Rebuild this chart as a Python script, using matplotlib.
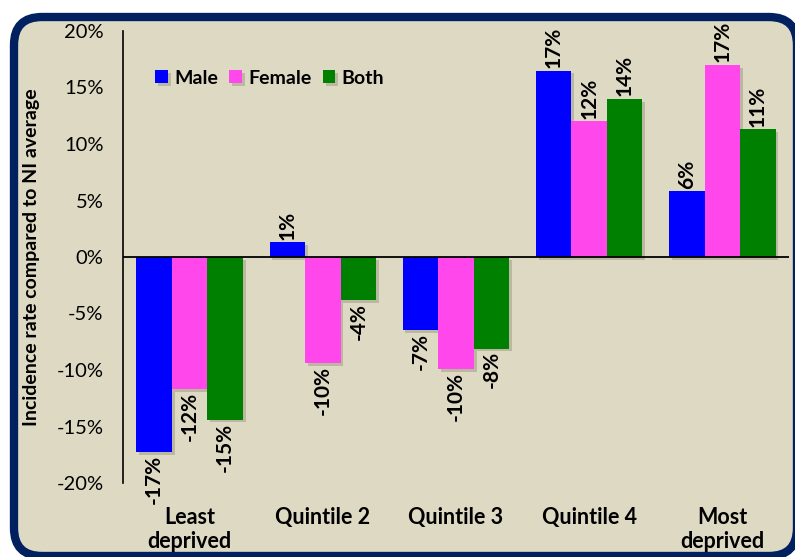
import numpy as np
import matplotlib
matplotlib.use('Agg')
import matplotlib.pyplot as plt
from matplotlib.patches import FancyBboxPatch
import matplotlib.patheffects as pe

plt.rcParams['font.family'] = ['Lato', 'DejaVu Sans']

# data
categories = ['Least\ndeprived', 'Quintile 2', 'Quintile 3', 'Quintile 4', 'Most\ndeprived']
male = [-17.3, 1.3, -6.5, 16.5, 5.8]
female = [-11.7, -9.4, -9.9, 12.0, 17.0]
both = [-14.4, -3.8, -8.1, 14.0, 11.3]
male_lbl = ['-17%', '1%', '-7%', '17%', '6%']
female_lbl = ['-12%', '-10%', '-10%', '12%', '17%']
both_lbl = ['-15%', '-4%', '-8%', '14%', '11%']
yticks = [-20, -15, -10, -5, 0, 5, 10, 15, 20]

W, H = 795, 557
fig = plt.figure(figsize=(W / 100, H / 100), dpi=100)
fig.patch.set_facecolor('white')

# background axes in pixel units for the rounded beige frame
bg = fig.add_axes([0, 0, 1, 1], zorder=-1)
bg.set_xlim(0, W)
bg.set_ylim(0, H)
bg.axis('off')
frame = FancyBboxPatch((14, 1), 783, 539, boxstyle='round,pad=0,rounding_size=28',
                       facecolor='#DDD9C3', edgecolor='#002060', linewidth=6)
bg.add_patch(frame)

ax = fig.add_axes([123 / W, (H - 483) / H, 666 / W, 452 / H])
ax.set_facecolor('none')

x = np.arange(len(categories))
bw = 0.8 / 3
shadow = [pe.SimplePatchShadow(offset=(2, -2), shadow_rgbFace='#8a8670', alpha=0.4), pe.Normal()]
series = [(male, male_lbl, '#0000FF', 'Male'),
          (female, female_lbl, '#FF47EB', 'Female'),
          (both, both_lbl, '#008000', 'Both')]
for i, (vals, lbls, col, name) in enumerate(series):
    xs = x + (i - 1) * bw
    bars = ax.bar(xs, vals, width=bw, color=col, label=name, zorder=2)
    for b in bars:
        b.set_path_effects(shadow)
    for xi, v, t in zip(xs, vals, lbls):
        ax.annotate(t, (xi, v), xytext=(0, 2 if v > 0 else -2), textcoords='offset points',
                    rotation=90, ha='center', va='bottom' if v > 0 else 'top',
                    fontsize=15, fontweight='bold', zorder=3)

ax.set_xlim(-0.5, len(categories) - 0.5)
ax.set_ylim(-20, 20)
ax.set_yticks(yticks)
ax.set_yticklabels([f'{t}%' for t in yticks], fontsize=14.5)
ax.set_xticks(x)
ax.set_xticklabels(categories, fontsize=15.5, fontweight='bold', linespacing=1.2)
ax.tick_params(axis='x', length=0, pad=17)
ax.tick_params(axis='y', length=0, pad=14)
ax.axhline(0, color='black', linewidth=1.3, zorder=4)
for s in ['top', 'right', 'bottom']:
    ax.spines[s].set_visible(False)
ax.spines['left'].set_linewidth(1.2)

ax.set_ylabel('Incidence rate compared to NI average', fontsize=14, fontweight='bold')
ax.yaxis.set_label_coords(-0.124, 0.5)

ax.legend(loc='center left', bbox_to_anchor=(0.037, 0.896), ncol=3, frameon=False,
          prop={'weight': 'bold', 'size': 14}, handlelength=0.65, handleheight=0.65,
          handletextpad=0.3, columnspacing=0.6, borderaxespad=0)

fig.savefig('out.png', dpi=100)
